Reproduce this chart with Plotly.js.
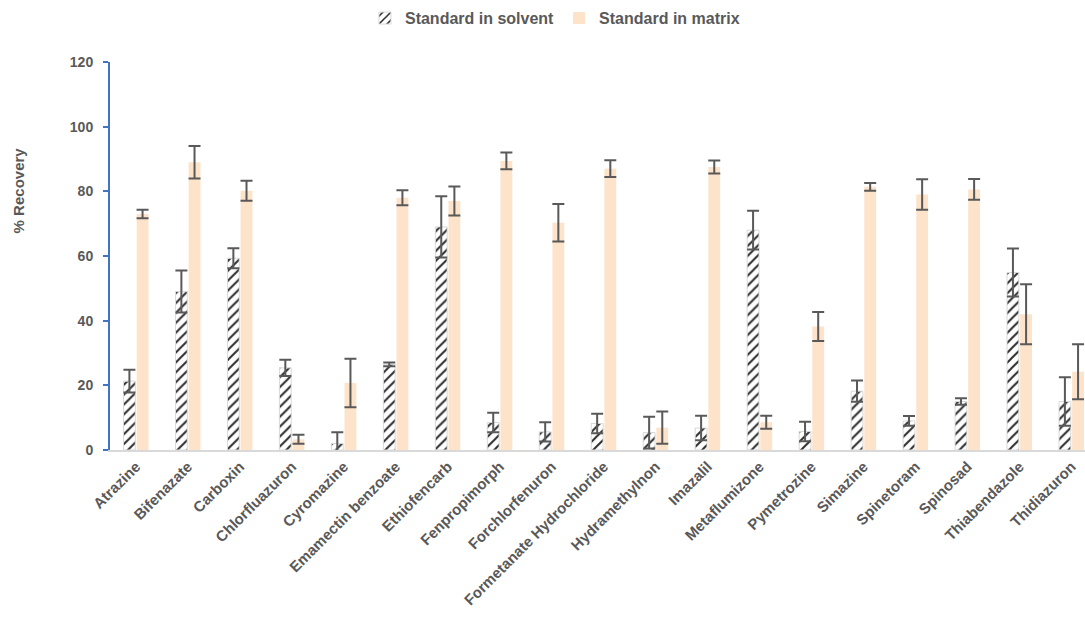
<!DOCTYPE html>
<html>
<head>
<meta charset="utf-8">
<script src="https://cdn.plot.ly/plotly-3.0.1.min.js"></script>
<style>html,body{margin:0;padding:0;background:#fff;}#chart{width:1085px;height:618px;}</style>
</head>
<body>
<div id="chart"></div>
<script>
const categories = ["Atrazine","Bifenazate","Carboxin","Chlorfluazuron","Cyromazine","Emamectin benzoate","Ethiofencarb","Fenpropimorph","Forchlorfenuron","Formetanate Hydrochloride","Hydramethylnon","Imazalil","Metaflumizone","Pymetrozine","Simazine","Spinetoram","Spinosad","Thiabendazole","Thidiazuron"];
const solventValues = [21.3, 49.0, 59.3, 25.4, 2.0, 26.5, 69.0, 8.5, 5.6, 8.2, 5.4, 6.8, 68.0, 5.7, 18.2, 9.0, 15.0, 54.9, 15.0];
const solventErrors = [3.5, 6.5, 3.1, 2.5, 3.5, 0.6, 9.5, 3.0, 3.0, 3.0, 4.9, 3.8, 6.0, 3.0, 3.3, 1.5, 1.0, 7.4, 7.5];
const matrixValues = [73.0, 89.0, 80.2, 3.3, 20.7, 78.0, 77.0, 89.4, 70.3, 87.0, 6.9, 87.5, 8.6, 38.2, 81.4, 79.0, 80.6, 42.0, 24.2];
const matrixErrors = [1.3, 5.0, 3.1, 1.4, 7.5, 2.3, 4.5, 2.6, 5.8, 2.6, 5.0, 2.0, 2.0, 4.5, 1.2, 4.7, 3.2, 9.3, 8.5];
const seriesNames = ["Standard in solvent", "Standard in matrix"];
const yTicks = [0, 20, 40, 60, 80, 100, 120];

const font = "Arial, 'Liberation Sans', sans-serif";
const grey = "#595959";
const errStyle = {type: "data", visible: true, color: "#595959", thickness: 2, width: 6};

const traces = [
  {
    type: "bar", name: seriesNames[0], x: categories, y: solventValues,
    error_y: Object.assign({array: solventErrors}, errStyle),
    marker: {color: "#ffffff", line: {color: "#d9d9d9", width: 1},
             pattern: {shape: "/", fgcolor: "#2b2b2b", bgcolor: "#ffffff", size: 7, solidity: 0.28}}
  },
  {
    type: "bar", name: seriesNames[1], x: categories, y: matrixValues,
    error_y: Object.assign({array: matrixErrors}, errStyle),
    marker: {color: "#fde3c9", line: {width: 0}}
  }
];

const layout = {
  width: 1085, height: 618,
  margin: {l: 110, r: 0, t: 62, b: 168},
  paper_bgcolor: "#ffffff", plot_bgcolor: "#ffffff",
  barmode: "group", bargap: 0.494, bargroupgap: 0.1,
  font: {family: font, color: grey},
  showlegend: true,
  legend: {orientation: "h", x: 0.2615, xanchor: "left", y: 1.113, yanchor: "middle",
           font: {family: font, size: 16, color: grey, weight: "bold"}, traceorder: "normal"},
  xaxis: {
    type: "category", range: [-0.5, 18.26],
    tickangle: -45, tickfont: {family: font, size: 15, color: grey, weight: "bold"},
    showline: true, linecolor: "#d9d9d9", linewidth: 2, ticks: "", showgrid: false, zeroline: false,
    fixedrange: true
  },
  yaxis: {
    range: [0, 120], tickvals: yTicks, ticktext: yTicks.map(String),
    tickfont: {family: font, size: 14, color: grey, weight: "bold"},
    showline: true, linecolor: "#4472c4", linewidth: 2, ticks: "outside", ticklen: 5, tickwidth: 2, tickcolor: "#4472c4",
    ticklabelstandoff: 7,
    showgrid: false, zeroline: false, fixedrange: true
  },
  annotations: [{
    text: "% Recovery", textangle: -90, xref: "paper", yref: "paper",
    x: -0.094, y: 0.67, xanchor: "center", yanchor: "middle", showarrow: false,
    font: {family: font, size: 15, color: grey, weight: "bold"}
  }]
};

Plotly.newPlot("chart", traces, layout, {displayModeBar: false, staticPlot: true});
</script>
</body>
</html>
